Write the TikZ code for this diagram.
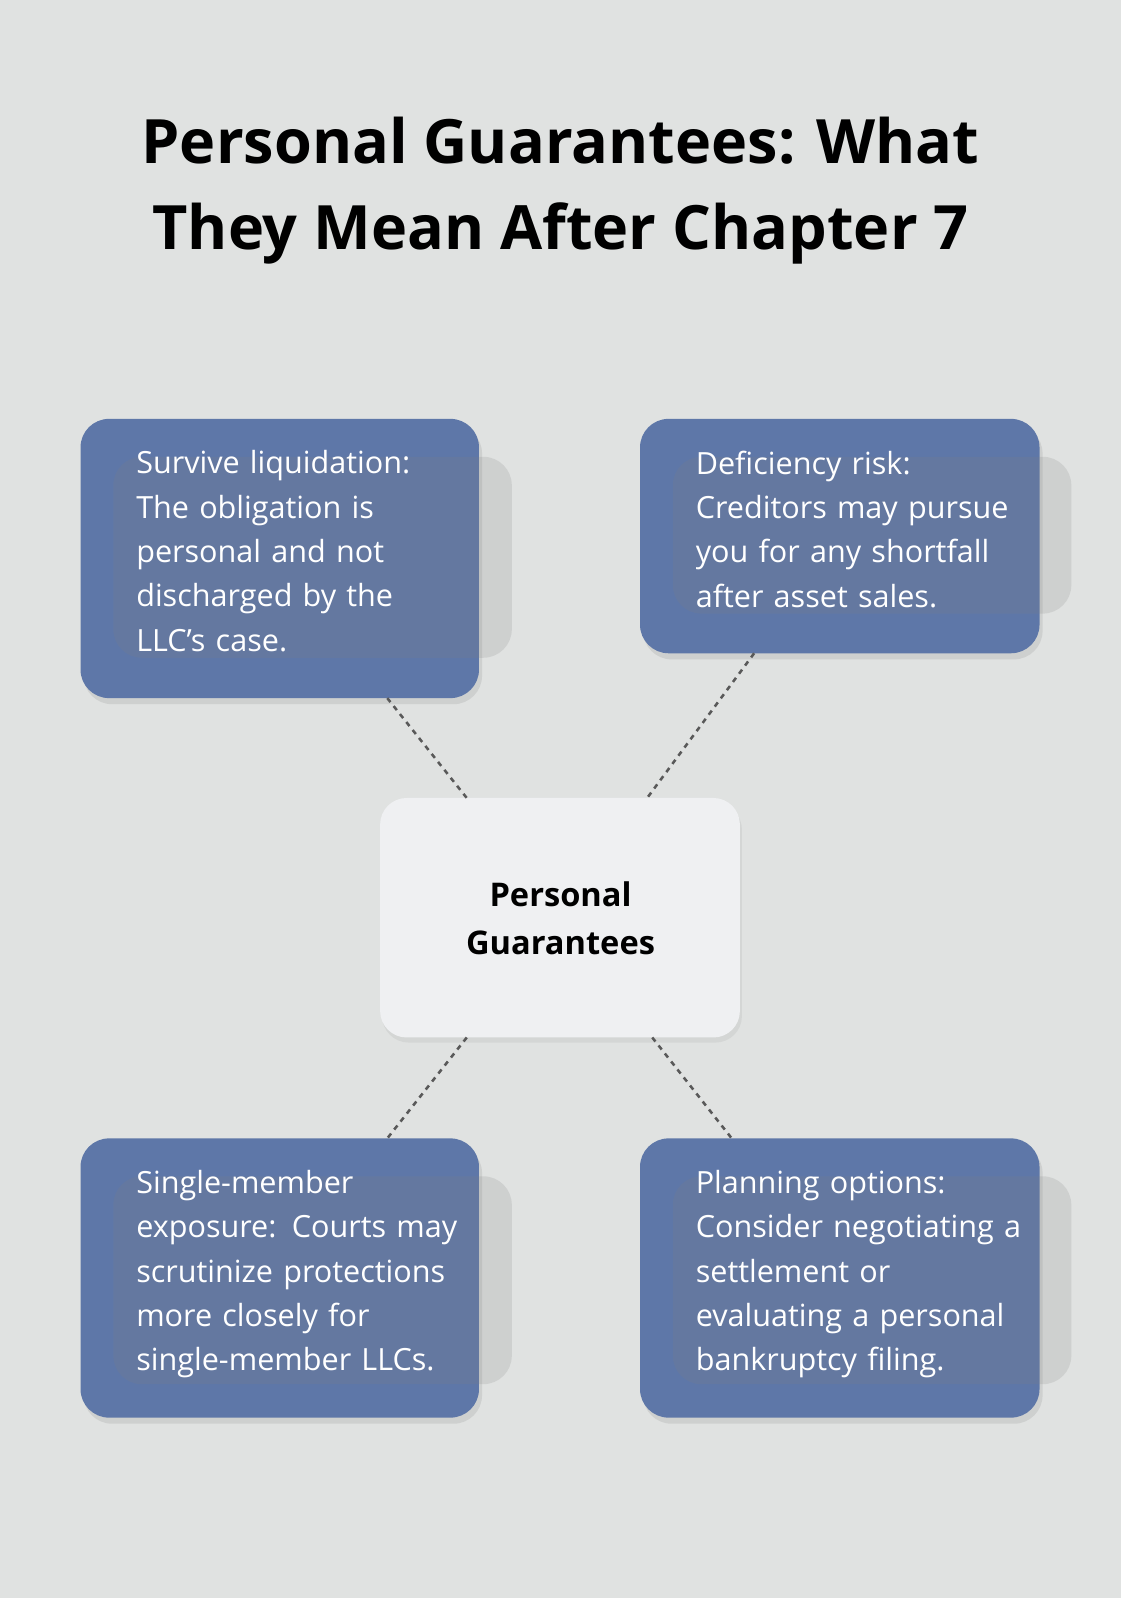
\documentclass[tikz,border=0pt]{standalone}
\usepackage{fontspec}
\setmainfont{Open Sans}
\usetikzlibrary{positioning,shadows}
\definecolor{bgc}{HTML}{E0E2E1}
\definecolor{boxc}{HTML}{5E77A8}
\definecolor{midc}{HTML}{EFF0F2}
\tikzset{
  side/.style={draw=none,fill=boxc,rounded corners=28pt,text=white,align=left,
    anchor=north west,minimum width=391pt,text width=340pt,inner sep=0pt,
    font=\fontsize{30}{43.5}\selectfont,
    drop shadow={shadow xshift=3pt,shadow yshift=-6pt,opacity=0.18}},
  link/.style={densely dashed,line width=2.5pt,color=black!65,dash pattern=on 5pt off 5pt}
}
\begin{document}
\begin{tikzpicture}[x=1pt,y=-1pt]
\fill[bgc] (0,0) rectangle (1100,1568);
\useasboundingbox (0,0) rectangle (1100,1568);
\node[font=\fontsize{60}{85}\selectfont\bfseries,align=center] (title) at (550,187)
  {Personal Guarantees: What\\They Mean After Chapter 7};
%boxes
\fill[boxc,rounded corners=28pt,drop shadow={shadow xshift=3pt,shadow yshift=-6pt,opacity=0.18}] (79,411) rectangle (470,685);
\node[side,fill=none,draw=none,drop shadow={opacity=0}] (tl) at (108,442) {Survive liquidation:\\The obligation is\\personal and not\\discharged by the\\LLC’s case.};
\fill[boxc,rounded corners=28pt,drop shadow={shadow xshift=3pt,shadow yshift=-6pt,opacity=0.18}] (628,411) rectangle (1020,641);
\node[side,fill=none,drop shadow={opacity=0}] (tr) at (657,442) {Deficiency risk:\\Creditors may pursue\\you for any shortfall\\after asset sales.};
\fill[boxc,rounded corners=28pt,drop shadow={shadow xshift=3pt,shadow yshift=-6pt,opacity=0.18}] (79,1117) rectangle (470,1391);
\node[side,fill=none,drop shadow={opacity=0}] (bl) at (108,1148) {Single-member\\exposure: Courts may\\scrutinize protections\\more closely for\\single-member LLCs.};
\fill[boxc,rounded corners=28pt,drop shadow={shadow xshift=3pt,shadow yshift=-6pt,opacity=0.18}] (628,1117) rectangle (1020,1391);
\node[side,fill=none,drop shadow={opacity=0}] (br) at (657,1148) {Planning options:\\Consider negotiating a\\settlement or\\evaluating a personal\\bankruptcy filing.};
%center
\fill[midc,rounded corners=26pt,drop shadow={shadow xshift=2pt,shadow yshift=-5pt,opacity=0.12}] (373,783) rectangle (726,1018);
\node[font=\fontsize{32}{47}\selectfont\bfseries,align=center] (mid) at (550,901) {Personal\\Guarantees};
%connectors
\coordinate (a1) at (380,685); \coordinate (a2) at (458,783);
\coordinate (b1) at (740,641); \coordinate (b2) at (635,783);
\coordinate (c1) at (458,1018); \coordinate (c2) at (380,1117);
\coordinate (d1) at (640,1018); \coordinate (d2) at (718,1117);
\draw[link] (a1) -- (a2);
\draw[link] (b1) -- (b2);
\draw[link] (c1) -- (c2);
\draw[link] (d1) -- (d2);
\end{tikzpicture}
\end{document}
